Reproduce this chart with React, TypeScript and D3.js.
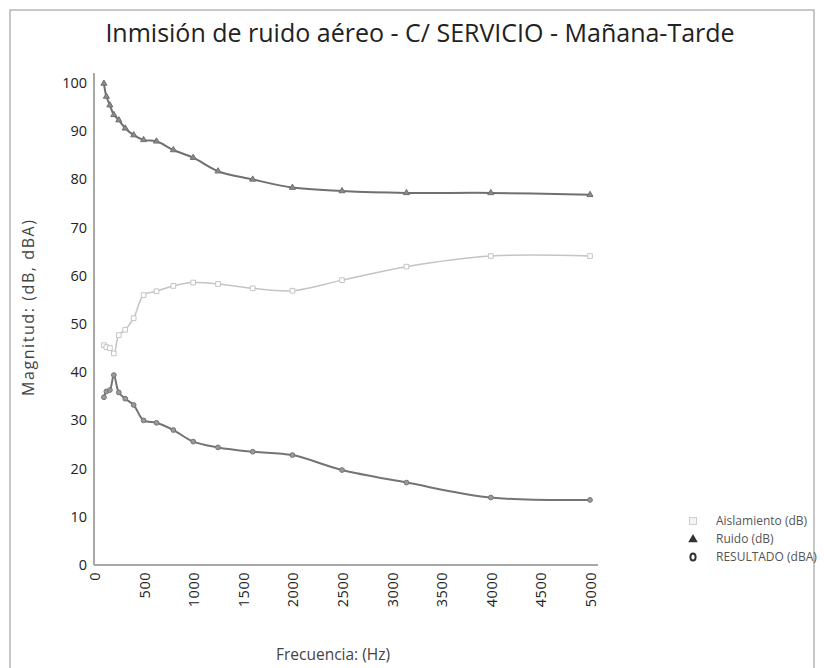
import React, { useEffect, useRef } from "react";
import * as d3 from "d3";

// bandas de tercio de octava (Hz)
const frequencies = [100, 125, 160, 200, 250, 315, 400, 500, 630, 800, 1000, 1250, 1600, 2000, 2500, 3150, 4000, 5000];
const aislamiento = [45.6, 45.2, 45.0, 43.9, 47.7, 48.8, 51.2, 56.0, 56.8, 57.9, 58.6, 58.3, 57.4, 56.9, 59.1, 61.9, 64.1, 64.1];
const ruido = [99.9, 97.2, 95.4, 93.4, 92.3, 90.6, 89.2, 88.2, 87.9, 86.1, 84.5, 81.7, 80.0, 78.3, 77.6, 77.2, 77.2, 76.8];
const resultado = [34.8, 36.0, 36.3, 39.4, 35.8, 34.5, 33.2, 30.0, 29.5, 28.0, 25.6, 24.4, 23.5, 22.8, 19.7, 17.1, 14.0, 13.5];

const xTicks = [0, 500, 1000, 1500, 2000, 2500, 3000, 3500, 4000, 4500, 5000];
const yTicks = [0, 10, 20, 30, 40, 50, 60, 70, 80, 90, 100];
const seriesNames = ["Aislamiento (dB)", "Ruido (dB)", "RESULTADO (dBA)"];

const FONT = "'Open Sans', 'Noto Sans', sans-serif";

const App = () => {
	const svgRef = useRef<SVGSVGElement>(null);

	useEffect(() => {
		const svg = d3.select(svgRef.current);
		svg.selectAll("*").remove();

		const x = d3.scaleLinear().domain([0, 5000]).range([94, 590]);
		const y = d3.scaleLinear().domain([0, 100]).range([565, 83]);

		// marco
		svg.append("rect")
			.attr("x", 10)
			.attr("y", 10)
			.attr("width", 804)
			.attr("height", 700)
			.attr("fill", "white")
			.attr("stroke", "#b5b5b5")
			.attr("stroke-width", 1.5);

		// titulo
		svg.append("text")
			.attr("x", 420)
			.attr("y", 42)
			.attr("text-anchor", "middle")
			.style("font-family", FONT)
			.style("font-size", "25px")
			.style("fill", "#222")
			.text("Inmisión de ruido aéreo - C/ SERVICIO - Mañana-Tarde");

		// ejes
		svg.append("line")
			.attr("x1", x(0)).attr("x2", x(0))
			.attr("y1", y(0)).attr("y2", 73)
			.attr("stroke", "#a8a8a8").attr("stroke-width", 2);
		svg.append("line")
			.attr("x1", x(0)).attr("x2", x(5000) + 8)
			.attr("y1", y(0)).attr("y2", y(0))
			.attr("stroke", "#a8a8a8").attr("stroke-width", 2);

		svg.selectAll(".ytick")
			.data(yTicks)
			.join("text")
			.attr("class", "ytick")
			.attr("x", 87)
			.attr("y", (d) => y(d))
			.attr("dy", "0.35em")
			.attr("text-anchor", "end")
			.style("font-family", FONT)
			.style("font-size", "14.5px")
			.style("fill", "#222")
			.text((d) => d);

		svg.selectAll(".xtick")
			.data(xTicks)
			.join("text")
			.attr("class", "xtick")
			.attr("transform", (d) => `translate(${x(d) + 1},${572}) rotate(-90)`)
			.attr("dy", "0.35em")
			.attr("text-anchor", "end")
			.style("font-family", FONT)
			.style("font-size", "14.5px")
			.style("letter-spacing", "0.5px")
			.style("fill", "#222")
			.text((d) => d);

		// titulos de ejes
		svg.append("text")
			.attr("transform", "translate(28,308) rotate(-90)")
			.attr("dy", "0.35em")
			.attr("text-anchor", "middle")
			.attr("textLength", 176)
			.attr("lengthAdjust", "spacing")
			.style("font-family", FONT)
			.style("font-size", "16px")
			.style("fill", "#444")
			.text("Magnitud: (dB, dBA)");
		svg.append("text")
			.attr("x", 333)
			.attr("y", 660)
			.attr("text-anchor", "middle")
			.style("font-family", FONT)
			.style("font-size", "15.5px")
			.style("fill", "#444")
			.text("Frecuencia: (Hz)");

		const line = d3
			.line<number>()
			.x((d, i) => x(frequencies[i]))
			.y((d) => y(d))
			.curve(d3.curveCatmullRom.alpha(0.5));

		const series = [
			{ values: aislamiento, color: "#c4c4c4", width: 1.5, symbol: d3.symbolSquare, size: 22, fill: "white" },
			{ values: ruido, color: "#707070", width: 2, symbol: d3.symbolTriangle, size: 16, fill: "#8a8a8a" },
			{ values: resultado, color: "#747474", width: 2, symbol: d3.symbolCircle, size: 18, fill: "#9a9a9a" },
		];

		series.forEach((s) => {
			svg.append("path")
				.attr("d", line(s.values))
				.style("fill", "none")
				.style("stroke", s.color)
				.style("stroke-width", s.width);
			svg.selectAll(null)
				.data(s.values)
				.join("path")
				.attr("transform", (d, i) => `translate(${x(frequencies[i])},${y(d)})`)
				.attr("d", d3.symbol().type(s.symbol).size(s.size)())
				.style("fill", s.fill)
				.style("stroke", s.color)
				.style("stroke-width", 1);
		});

		// leyenda
		const legend = svg.append("g").attr("transform", "translate(693,521)");
		seriesNames.forEach((name, i) => {
			const g = legend.append("g").attr("transform", `translate(0,${i * 18})`);
			if (i === 0) {
				g.append("rect").attr("x", -3.5).attr("y", -3.5).attr("width", 7).attr("height", 7)
					.style("fill", "#f4f4f4").style("stroke", "#cfcfcf");
			} else if (i === 1) {
				g.append("path").attr("d", d3.symbol().type(d3.symbolTriangle).size(40)())
					.attr("transform", "translate(0,0.5)")
					.style("fill", "#333");
			} else {
				g.append("ellipse").attr("rx", 2.6).attr("ry", 3.6)
					.style("fill", "none").style("stroke", "#333").style("stroke-width", 2);
			}
			g.append("text")
				.attr("x", 23)
				.attr("dy", "0.35em")
				.style("font-family", FONT)
				.style("font-size", "12px")
				.style("fill", "#555")
				.text(name);
		});
	}, []);

	return (
		<svg
			ref={svgRef}
			width={824}
			height={668}
			style={{ position: "absolute", left: 0, top: 0, background: "white" }}></svg>
	);
};

export default App;
